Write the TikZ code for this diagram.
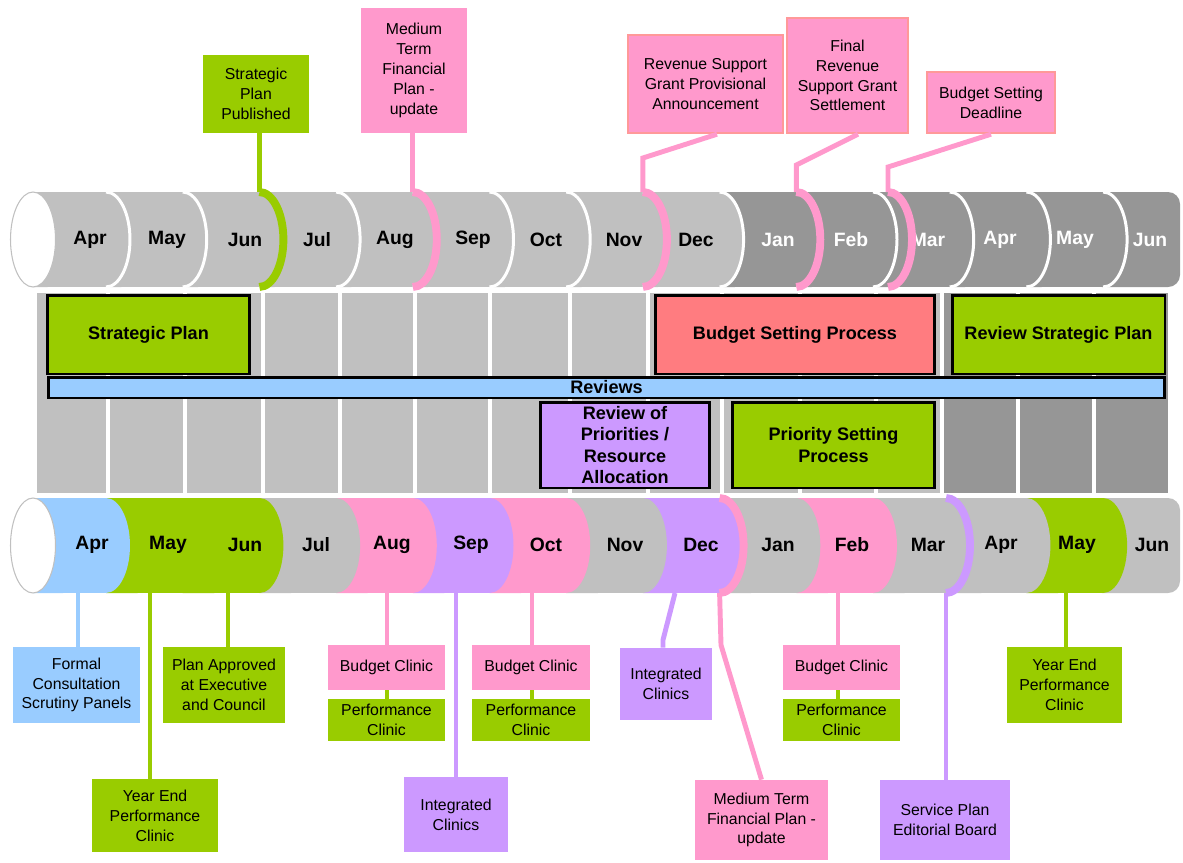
\documentclass[tikz,border=0pt]{standalone}
\usepackage{fontspec}
\setmainfont{Liberation Sans}
\definecolor{ltgray}{HTML}{C0C0C0}
\definecolor{dkgray}{HTML}{969696}
\definecolor{lime}{HTML}{99CC00}
\definecolor{rose}{HTML}{FF99CC}
\definecolor{roseline}{HTML}{FF9999}
\definecolor{lilac}{HTML}{CC99FF}
\definecolor{sky}{HTML}{99CCFF}
\definecolor{salmon}{HTML}{FF7C80}
\newcommand{\segrx}{0.48cm}
\newcommand{\segry}{0.95cm}
\tikzset{
  sep/.style={white, line width=1.7pt},
  marker/.style={line width=4.5pt},
  leader/.style={line width=2.8pt},
  month/.style={font=\fontsize{11}{13}\selectfont\bfseries},
  callout/.style={align=center, inner sep=0pt, font=\fontsize{9}{11.3}\selectfont},
  phase/.style={draw=black, line width=1.7pt, align=center, inner sep=0pt, font=\fontsize{10.3}{12.2}\selectfont\bfseries}
}

\begin{document}
\begin{tikzpicture}[x=0.02cm, y=-0.02cm]
  \useasboundingbox (0,0) rectangle (1183,862);

  % grey month columns behind the phases
  \foreach \a/\b/\c in {35/108/ltgray, 108/185/ltgray, 185/263/ltgray, 263/340/ltgray, 340/415/ltgray, 415/490/ltgray, 490/570/ltgray, 570/648/ltgray, 648/722/ltgray, 722/800/ltgray, 800/876/ltgray, 876/942/ltgray, 942/1018/dkgray, 1018/1094/dkgray, 1094/1170/dkgray}
    \fill[\c] (\a+2,293) rectangle (\b-2,493);

  % top month band
  \fill[dkgray, rounded corners=0.24cm] (1090,192) rectangle (1180,287);
  \foreach \i/\c in {13/dkgray,12/dkgray,11/dkgray,10/dkgray,9/dkgray,8/ltgray,7/ltgray,6/ltgray,5/ltgray,4/ltgray,3/ltgray,2/ltgray,1/ltgray,0/ltgray}{
    \pgfmathsetmacro{\R}{130+76.7*\i}
    \pgfmathsetmacro{\L}{\i==0 ? 57 : \R-76.7}
    \fill[\c] (\L-24,192) -- (\R-24,192) arc[start angle=90, end angle=-90, x radius=\segrx, y radius=\segry] -- (\L-24,287) -- cycle;
  }
  \foreach \i in {0,...,13}
    \draw[sep] (130+76.7*\i-24,192) arc[start angle=90, end angle=-90, x radius=\segrx, y radius=\segry];
  \draw[ltgray, fill=white, line width=0.6pt] (33,239.5) ellipse[x radius=0.45cm, y radius=\segry];

  % bottom month band
  \fill[ltgray, rounded corners=0.24cm] (1090,498) rectangle (1180,593);
  \foreach \i/\c in {13/lime,12/ltgray,11/ltgray,10/rose,9/ltgray,8/lilac,7/ltgray,6/rose,5/lilac,4/rose,3/ltgray,2/lime,1/lime,0/sky}{
    \pgfmathsetmacro{\R}{130+76.7*\i}
    \pgfmathsetmacro{\L}{\i==0 ? 57 : \R-76.7}
    \fill[\c] (\L-24,498) -- (\R-24,498) arc[start angle=90, end angle=-90, x radius=\segrx, y radius=\segry] -- (\L-24,593) -- cycle;
  }
  \draw[ltgray, fill=white, line width=0.6pt] (33,545.5) ellipse[x radius=0.45cm, y radius=\segry];

  % month names
  \foreach \m/\x [count=\n] in {Apr/90,May/167,Jun/245,Jul/317,Aug/395,Sep/473,Oct/546,Nov/624,Dec/696}
    \node[month] (top\n) at (\x,240) {\m};
  \foreach \m/\x [count=\n from 10] in {Jan/778,Feb/851,Mar/928,Apr/1000,May/1075,Jun/1150}
    \node[month, white] (top\n) at (\x,240) {\m};
  \foreach \m/\x [count=\n] in {Apr/92,May/168,Jun/245,Jul/316,Aug/392,Sep/471,Oct/546,Nov/625,Dec/701,Jan/778,Feb/852,Mar/928,Apr/1001,May/1077,Jun/1152}
    \node[month] (bot\n) at (\x,545) {\m};

  % milestone arcs on the bands
  \coordinate (sppubA) at (259.4,192);
  \coordinate (mtfpA) at (412.8,192);
  \coordinate (rsgprovA) at (642.9,192);
  \coordinate (rsgfinalA) at (796.3,192);
  \coordinate (bsdeadA) at (888,192);
  \draw[marker, lime] (sppubA) arc[start angle=90, end angle=-90, x radius=\segrx, y radius=\segry];
  \foreach \p in {mtfpA, rsgprovA, rsgfinalA, bsdeadA}
    \draw[marker, rose] (\p) arc[start angle=90, end angle=-90, x radius=\segrx, y radius=\segry];
  \draw[marker, rose] (719.6,498) arc[start angle=90, end angle=-90, x radius=\segrx, y radius=\segry];
  \draw[marker, lilac] (946,498) arc[start angle=90, end angle=-90, x radius=\segrx, y radius=\segry];

  % phases
  \node[phase, fill=lime, minimum width=4.06cm, minimum height=1.58cm] (stratplan) at (148.5,334.5) {Strategic Plan};
  \node[phase, fill=salmon, minimum width=5.6cm, minimum height=1.58cm] (budproc) at (795,334.5) {Budget Setting Process};
  \node[phase, fill=lime, minimum width=4.26cm, minimum height=1.58cm] (revsp) at (1058.5,334.5) {Review Strategic Plan};
  \node[phase, fill=sky, minimum width=22.34cm, minimum height=0.42cm] (reviews) at (606.5,387.5) {Reviews};
  \node[phase, fill=lilac, minimum width=3.4cm, minimum height=1.72cm] (revprio) at (625,445) {Review of\\Priorities /\\Resource\\Allocation};
  \node[phase, fill=lime, minimum width=4.06cm, minimum height=1.72cm] (priosp) at (833.5,445) {Priority Setting\\Process};

  % milestones above
  \node[callout, fill=lime, minimum width=2.12cm, minimum height=1.56cm] (sppub) at (256,94) {Strategic\\Plan\\Published};
  \node[callout, fill=rose, minimum width=2.12cm, minimum height=2.5cm] (mtfp) at (414,70.5) {Medium\\Term\\Financial\\Plan -\\update};
  \node[callout, fill=rose, draw=roseline, line width=1.4pt, minimum width=3.1cm, minimum height=1.96cm] (rsgprov) at (705.5,84) {Revenue Support\\Grant Provisional\\Announcement};
  \node[callout, fill=rose, draw=roseline, line width=1.4pt, minimum width=2.42cm, minimum height=2.3cm] (rsgfinal) at (847.5,75.5) {Final\\Revenue\\Support Grant\\Settlement};
  \node[callout, fill=rose, draw=roseline, line width=1.4pt, minimum width=2.56cm, minimum height=1.22cm] (bsdead) at (991,102.5) {Budget Setting\\Deadline};

  \draw[leader, lime] (sppub.south -| sppubA) -- (sppubA);
  \draw[leader, rose] (mtfp.south -| mtfpA) -- (mtfpA);
  \coordinate (rsgprovK) at (642.9,158);
  \draw[leader, rose] ([xshift=0.23cm]rsgprov.south) -- (rsgprovK) -- (rsgprovA);
  \coordinate (rsgfinalK) at (796.3,165);
  \draw[leader, rose] ([xshift=0.21cm]rsgfinal.south) -- (rsgfinalK) -- (rsgfinalA);
  \coordinate (bsdeadK) at (888,167);
  \draw[leader, rose] (bsdead.south) -- (bsdeadK) -- (bsdeadA);

  % milestones below
  \node[callout, fill=sky, minimum width=2.54cm, minimum height=1.52cm] (formal) at (76.5,685) {Formal\\Consultation\\Scrutiny Panels};
  \node[callout, fill=lime, minimum width=2.52cm, minimum height=1.46cm] (yeclin1) at (155,815.5) {Year End\\Performance\\Clinic};
  \node[callout, fill=lime, minimum width=2.44cm, minimum height=1.52cm] (planapp) at (224,685) {Plan Approved\\at Executive\\and Council};
  \node[callout, fill=rose, minimum width=2.34cm, minimum height=0.9cm] (bclin1) at (386.5,667.5) {Budget Clinic};
  \node[callout, fill=lime, minimum width=2.34cm, minimum height=0.84cm] (pclin1) at (386.5,720) {Performance\\Clinic};
  \node[callout, fill=lilac, minimum width=2.08cm, minimum height=1.5cm] (intclin1) at (456,814.5) {Integrated\\Clinics};
  \node[callout, fill=rose, minimum width=2.36cm, minimum height=0.9cm] (bclin2) at (531,667.5) {Budget Clinic};
  \node[callout, fill=lime, minimum width=2.36cm, minimum height=0.84cm] (pclin2) at (531,720) {Performance\\Clinic};
  \node[callout, fill=lilac, minimum width=1.84cm, minimum height=1.44cm] (intclin2) at (666,684) {Integrated\\Clinics};
  \node[callout, fill=rose, minimum width=2.66cm, minimum height=1.6cm] (mtfp2) at (761.5,820) {Medium Term\\Financial Plan -\\update};
  \node[callout, fill=rose, minimum width=2.34cm, minimum height=0.9cm] (bclin3) at (841.5,667.5) {Budget Clinic};
  \node[callout, fill=lime, minimum width=2.34cm, minimum height=0.84cm] (pclin3) at (841.5,720) {Performance\\Clinic};
  \node[callout, fill=lilac, minimum width=2.6cm, minimum height=1.6cm] (svcplan) at (945,820) {Service Plan\\Editorial Board};
  \node[callout, fill=lime, minimum width=2.3cm, minimum height=1.52cm] (yeclin2) at (1064.5,685) {Year End\\Performance\\Clinic};

  \coordinate (formalA) at (78,593);
  \coordinate (yeclin1A) at (150,593);
  \coordinate (planappA) at (228,593);
  \coordinate (bclin1A) at (387,593);
  \coordinate (intclin1A) at (456,593);
  \coordinate (bclin2A) at (532,593);
  \coordinate (intclin2A) at (675,593);
  \coordinate (intclin2K) at (663,640);
  \coordinate (mtfp2A) at (719.6,593);
  \coordinate (mtfp2K) at (721,645);
  \coordinate (bclin3A) at (838,593);
  \coordinate (svcplanA) at (946,593);
  \coordinate (yeclin2A) at (1066,593);
  \draw[leader, sky] (formalA) -- (formalA |- formal.north);
  \draw[leader, lime] (yeclin1A) -- (yeclin1A |- yeclin1.north);
  \draw[leader, lime] (planappA) -- (planappA |- planapp.north);
  \draw[leader, rose] (bclin1A) -- (bclin1A |- bclin1.north);
  \draw[leader, lime] (bclin1A |- bclin1.south) -- (bclin1A |- pclin1.north);
  \draw[leader, lilac] (intclin1A) -- (intclin1A |- intclin1.north);
  \draw[leader, rose] (bclin2A) -- (bclin2A |- bclin2.north);
  \draw[leader, lime] (bclin2A |- bclin2.south) -- (bclin2A |- pclin2.north);
  \draw[leader, lilac] (intclin2A) -- (intclin2K) -- (intclin2K |- intclin2.north);
  \draw[leader, rose] (mtfp2A) -- (mtfp2K) -- (mtfp2.north);
  \draw[leader, rose] (bclin3A) -- (bclin3A |- bclin3.north);
  \draw[leader, lime] (bclin3A |- bclin3.south) -- (bclin3A |- pclin3.north);
  \draw[leader, lilac] (svcplanA) -- (svcplanA |- svcplan.north);
  \draw[leader, lime] (yeclin2A) -- (yeclin2A |- yeclin2.north);
\end{tikzpicture}
\end{document}
